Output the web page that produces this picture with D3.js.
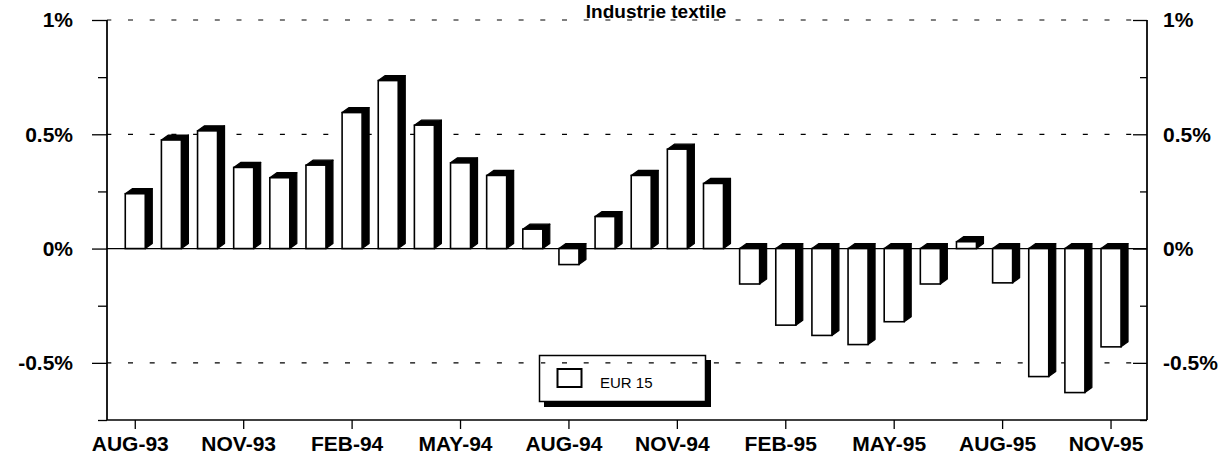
<!DOCTYPE html>
<html>
<head>
<meta charset="utf-8">
<script src="https://cdn.jsdelivr.net/npm/d3@7"></script>
<style>
  html, body { margin: 0; padding: 0; background: #fff; }
  svg { display: block; }
  text { font-family: "Liberation Sans", Arial, Helvetica, sans-serif; }
</style>
</head>
<body>
<div id="chart"></div>
<script>
// ---- data ----
const title = "Industrie textile";
const months = ["AUG-93","SEP-93","OCT-93","NOV-93","DEC-93","JAN-94","FEB-94","MAR-94","APR-94","MAY-94","JUN-94","JUL-94",
                "AUG-94","SEP-94","OCT-94","NOV-94","DEC-94","JAN-95","FEB-95","MAR-95","APR-95","MAY-95","JUN-95","JUL-95",
                "AUG-95","SEP-95","OCT-95","NOV-95"];
const eur15 = [0.24, 0.475, 0.515, 0.355, 0.31, 0.365, 0.595, 0.735, 0.54, 0.375, 0.32, 0.085,
               -0.07, 0.14, 0.32, 0.435, 0.285, -0.155, -0.335, -0.38, -0.42, -0.32, -0.155, 0.03,
               -0.15, -0.56, -0.63, -0.43];
const seriesName = "EUR 15";
const xTickLabels = ["AUG-93","NOV-93","FEB-94","MAY-94","AUG-94","NOV-94","FEB-95","MAY-95","AUG-95","NOV-95"];
const yMajorTicks = [1, 0.5, 0, -0.5];
const yMinorTicks = [0.75, 0.25, -0.25, -0.75];
const yTickLabels = ["1%", "0.5%", "0%", "-0.5%"];
const gridValues = [1, 0.5, -0.5];

// ---- layout ----
const W = 1221, H = 454;
const pLeft = 107, pRight = 1147, pTop = 20, pBottom = 420;

const svg = d3.select("#chart").append("svg").attr("width", W).attr("height", H);

const x = d3.scaleBand().domain(months).range([117.2, 1129.1]).padding(0);
const y = d3.scaleLinear().domain([-0.75, 1]).range([pBottom, pTop]);

const fmt = d3.scaleOrdinal().domain(yMajorTicks).range(yTickLabels);

// gridlines
const dashOff = 0.7;
svg.append("g").selectAll("line").data(gridValues).join("line")
  .attr("x1", pLeft).attr("x2", pRight)
  .attr("y1", d => y(d)).attr("y2", d => y(d))
  .attr("stroke", "#000").attr("stroke-width", 1.2)
  .attr("stroke-dasharray", "5 16.7").attr("stroke-dashoffset", dashOff);

// zero line
svg.append("line").attr("x1", pLeft).attr("x2", pRight).attr("y1", y(0)).attr("y2", y(0))
  .attr("stroke", "#000").attr("stroke-width", 1.3);

// bottom frame line
svg.append("line").attr("x1", pLeft).attr("x2", pRight).attr("y1", pBottom).attr("y2", pBottom)
  .attr("stroke", "#000").attr("stroke-width", 1.3);

// Left axis
const leftMajor = svg.append("g").attr("transform", `translate(${pLeft},0)`)
  .call(d3.axisLeft(y).tickValues(yMajorTicks).tickSize(15).tickPadding(20).tickFormat(d => fmt(d)));
const leftMinor = svg.append("g").attr("transform", `translate(${pLeft},0)`)
  .call(d3.axisLeft(y).tickValues(yMinorTicks).tickSize(9).tickFormat(""));
// Right axis - ticks inward
const rightMajor = svg.append("g").attr("transform", `translate(${pRight},0)`)
  .call(d3.axisRight(y).tickValues(yMajorTicks).tickSizeInner(-14).tickSizeOuter(0).tickPadding(16).tickFormat(d => fmt(d)));
const rightMinor = svg.append("g").attr("transform", `translate(${pRight},0)`)
  .call(d3.axisRight(y).tickValues(yMinorTicks).tickSizeInner(-7).tickSizeOuter(0).tickFormat(""));

[leftMajor, leftMinor, rightMajor, rightMinor].forEach(g => {
  g.select(".domain").attr("d", `M0,${pTop}V${pBottom}`).attr("stroke-width", 1.3);
  g.selectAll(".tick line").attr("stroke-width", 1.3);
  g.selectAll("text").attr("font-size", 21).attr("font-weight", "bold").attr("fill", "#000")
    .style("font-family", '"Liberation Sans", Arial, sans-serif');
});
leftMajor.selectAll("text").attr("dx", 1);

// Bottom axis
const xAxis = svg.append("g").attr("transform", `translate(0,${pBottom})`)
  .call(d3.axisBottom(x).tickValues(xTickLabels).tickSize(9).tickPadding(7));
xAxis.select(".domain").remove();
xAxis.selectAll(".tick line").attr("stroke-width", 1.3);
xAxis.selectAll("text").attr("font-size", 21).attr("font-weight", "bold").attr("fill", "#000")
  .attr("dx", -5)
  .style("font-family", '"Liberation Sans", Arial, sans-serif');

// Bars (3D)
const bw = 20, dx = 7, dy = 5;
const y0 = y(0);
const bars = svg.append("g").selectAll("g").data(months.map((m, i) => ({m, v: eur15[i]}))).join("g");
bars.each(function(d) {
  const g = d3.select(this);
  const cx = x(d.m) + x.bandwidth() / 2;
  const x0 = cx - bw / 2, x1 = cx + bw / 2;
  const yv = y(d.v);
  const yTopFace = d.v >= 0 ? yv : y0;
  g.append("path")
    .attr("d", `M${x0},${yTopFace}L${x0 + dx},${yTopFace - dy}L${x1 + dx},${yTopFace - dy}L${x1},${yTopFace}Z`)
    .attr("fill", "#000").attr("stroke", "#000").attr("stroke-width", 1.2).attr("stroke-linejoin", "round");
  const ya = Math.min(yv, y0), yb = Math.max(yv, y0);
  g.append("path")
    .attr("d", `M${x1},${ya}L${x1 + dx},${ya - dy}L${x1 + dx},${yb - dy}L${x1},${yb}Z`)
    .attr("fill", "#000").attr("stroke", "#000").attr("stroke-width", 1.2).attr("stroke-linejoin", "round");
  g.append("rect").attr("x", x0).attr("y", ya).attr("width", bw).attr("height", yb - ya)
    .attr("fill", "#fff").attr("stroke", "#000").attr("stroke-width", 1.6);
});

// Legend
const lg = svg.append("g");
lg.append("rect").attr("x", 544).attr("y", 360).attr("width", 167).attr("height", 47).attr("fill", "#000");
lg.append("rect").attr("x", 539.5).attr("y", 355.5).attr("width", 166).attr("height", 46)
  .attr("fill", "#fff").attr("stroke", "#000").attr("stroke-width", 1.5);
// the -0.5 grid line shows through the legend in the reference
lg.append("line").attr("x1", 541).attr("x2", 704).attr("y1", y(-0.5)).attr("y2", y(-0.5))
  .attr("stroke", "#000").attr("stroke-width", 1.2)
  .attr("stroke-dasharray", "5 16.7").attr("stroke-dashoffset", dashOff + (541 - pLeft));
lg.append("rect").attr("x", 557.5).attr("y", 369).attr("width", 24).attr("height", 18)
  .attr("fill", "#fff").attr("stroke", "#000").attr("stroke-width", 2);
lg.append("text").attr("x", 600).attr("y", 388).attr("font-size", 15).attr("fill", "#000").text(seriesName);

// Title
svg.append("text").attr("x", 656).attr("y", 18).attr("text-anchor", "middle")
  .attr("font-size", 19).attr("font-weight", "bold").attr("fill", "#000").text(title);
</script>
</body>
</html>
